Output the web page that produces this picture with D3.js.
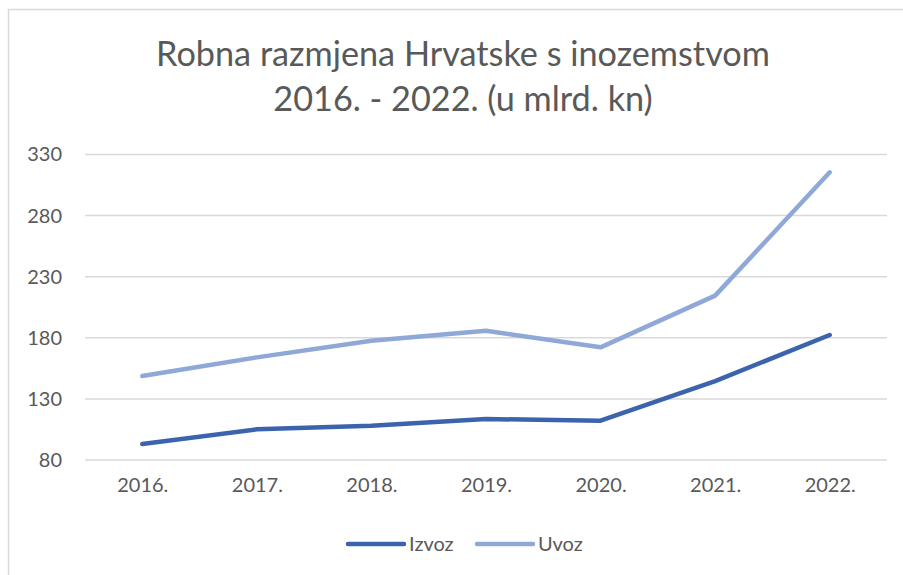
<!DOCTYPE html>
<html>
<head>
<meta charset="utf-8">
<script src="https://cdn.jsdelivr.net/npm/d3@7"></script>
<style>
  html, body { margin: 0; padding: 0; background: #fff; }
  svg { display: block; font-family: Lato, "Open Sans", sans-serif; }
</style>
</head>
<body>
<svg id="chart" width="903" height="575"></svg>
<script>
const titleLines = ["Robna razmjena Hrvatske s inozemstvom", "2016. - 2022. (u mlrd. kn)"];
const years = ["2016.", "2017.", "2018.", "2019.", "2020.", "2021.", "2022."];
const izvoz = [93.1, 105.1, 108.0, 113.5, 112.2, 144.6, 182.3];
const uvoz = [148.7, 164.0, 177.6, 185.8, 172.2, 214.5, 315.4];
const yTicks = [80, 130, 180, 230, 280, 330];
const seriesNames = ["Izvoz", "Uvoz"];
const seriesColors = ["#3c64ad", "#8fa8d8"];

const svg = d3.select("#chart");
const W = 903, H = 575;

// chart border
svg.append("rect")
  .attr("x", 8.5).attr("y", 9.5)
  .attr("width", W + 10).attr("height", H + 10)
  .attr("fill", "none").attr("stroke", "#d9d9d9").attr("stroke-width", 1.5);

// title
const title = svg.append("text")
  .attr("text-anchor", "middle")
  .attr("fill", "#595959")
  .style("font-weight", 400);
titleLines.forEach((t, i) => {
  title.append("tspan").attr("x", 463).attr("y", 66 + i * 45).text(t);
});
title.style("font-size", "30px");
const tl = title.select("tspan").node().getComputedTextLength();
title.style("font-size", (30 * 614 / tl) + "px");

const x = d3.scalePoint().domain(years).range([85, 887]).padding(0.5);
const y = d3.scaleLinear().domain([80, 330]).range([460, 154.5]);

// gridlines
svg.append("g")
  .selectAll("line").data(yTicks).join("line")
  .attr("x1", 85).attr("x2", 887)
  .attr("y1", d => y(d)).attr("y2", d => y(d))
  .attr("stroke", "#d9d9d9").attr("stroke-width", 1.5);

// y axis
const yAxis = svg.append("g")
  .attr("transform", "translate(62,0)")
  .call(d3.axisLeft(y).tickValues(yTicks).tickSize(0).tickPadding(0));
yAxis.select(".domain").remove();
yAxis.selectAll("text")
  .attr("fill", "#595959")
  .style("font-size", "20px").style("font-family", "Lato, sans-serif");

// x axis
const xAxis = svg.append("g")
  .attr("transform", "translate(0,478)")
  .call(d3.axisBottom(x).tickSize(0).tickPadding(0));
xAxis.select(".domain").remove();
xAxis.selectAll("text")
  .attr("fill", "#595959")
  .style("font-size", "20px").style("font-family", "Lato, sans-serif");

// lines
const line = d3.line().x((d, i) => x(years[i])).y(d => y(d));
[izvoz, uvoz].forEach((s, k) => {
  svg.append("path")
    .datum(s)
    .attr("d", line)
    .attr("fill", "none")
    .attr("stroke", seriesColors[k])
    .attr("stroke-width", 4.5)
    .attr("stroke-linejoin", "round")
    .attr("stroke-linecap", "round");
});

// legend
const legendX = [348, 477];
seriesNames.forEach((n, k) => {
  const g = svg.append("g").attr("transform", `translate(${legendX[k]},544)`);
  g.append("line").attr("x1", 0).attr("x2", 56).attr("y1", 0).attr("y2", 0)
    .attr("stroke", seriesColors[k]).attr("stroke-width", 4.5).attr("stroke-linecap", "round");
  g.append("text").attr("x", 61).attr("y", 7).attr("fill", "#595959")
    .style("font-size", "20px").text(n);
});
</script>
</body>
</html>
